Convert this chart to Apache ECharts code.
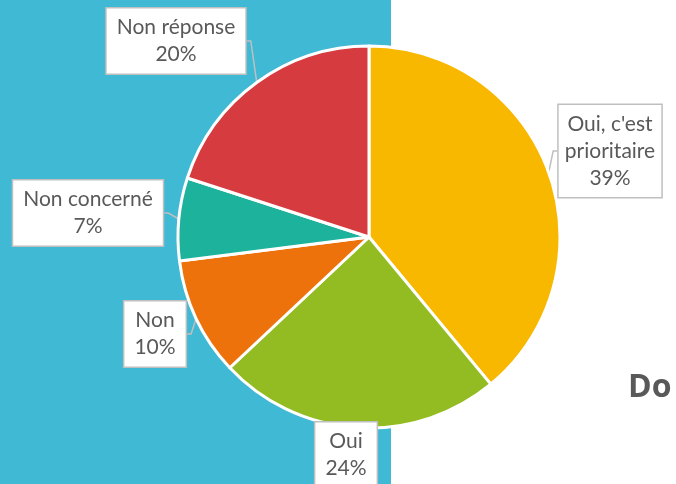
<!DOCTYPE html>
<html>
<head>
<meta charset="utf-8">
<script src="https://cdn.jsdelivr.net/npm/echarts@6/dist/echarts.min.js"></script>
<style>
  html, body { margin: 0; padding: 0; background: #ffffff; }
  #main { width: 676px; height: 484px; }
</style>
</head>
<body>
<div id="main"></div>
<script>
// categories and values (percent)
const categories = ['Oui, c\'est prioritaire', 'Oui', 'Non', 'Non concerné', 'Non réponse'];
const labelTexts = ['Oui, c\'est\nprioritaire', 'Oui', 'Non', 'Non concerné', 'Non réponse'];
const values = [39, 24, 10, 7, 20];
const colors = ['#F9B800', '#93BC22', '#EE720B', '#1DB29B', '#D63B3F'];

// label box centres
const labelPos = [[610, 151], [346, 455], [155, 334], [88, 213], [176, 41]];

const myChart = echarts.init(document.getElementById('main'));

const option = {
    animation: false,
    graphic: [{
        type: 'rect',
        z: -10,
        shape: { x: 0, y: 0, width: 391, height: 484 },
        style: { fill: '#40B9D4' }
    }, {
        type: 'text',
        left: 628,
        top: 372,
        style: {
            text: 'Do',
            fill: '#595959',
            fontFamily: 'Open Sans',
            fontWeight: 'bold',
            fontSize: 32
        }
    }],
    series: [{
        type: 'pie',
        center: [369, 237],
        radius: 191,
        startAngle: 90,
        clockwise: true,
        edgeDistance: 0,
        data: values.map((v, i) => ({
            name: categories[i],
            value: v,
            itemStyle: { color: colors[i] }
        })),
        itemStyle: { borderColor: '#ffffff', borderWidth: 3 },
        label: {
            show: true,
            position: 'outside',
            formatter: (p) => labelTexts[p.dataIndex] + '\n' + p.value + '%',
            fontFamily: 'Lato',
            fontSize: 21,
            lineHeight: 27,
            color: '#595959',
            align: 'center',
            overflow: 'none',
            backgroundColor: '#ffffff',
            borderColor: '#bfbfbf',
            borderWidth: 1.5,
            padding: [6, 10, 5, 10]
        },
        labelLine: {
            show: true,
            length: 6,
            length2: 4,
            lineStyle: { color: '#bfbfbf', width: 1.5 }
        },
        labelLayout: function (params) {
            const pos = labelPos[params.dataIndex];
            return { x: pos[0], y: pos[1], align: 'center', verticalAlign: 'middle' };
        }
    }]
};

myChart.setOption(option);
</script>
</body>
</html>
